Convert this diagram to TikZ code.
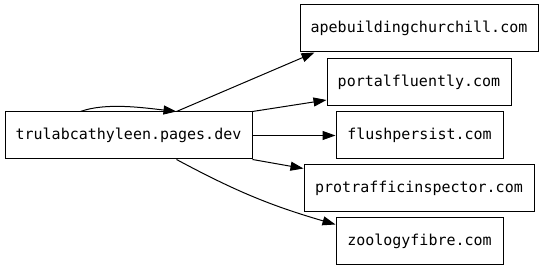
\documentclass[tikz,border=0pt]{standalone}
\usepackage{fontspec}
\setmonofont{DejaVu Sans Mono}
\usetikzlibrary{arrows.meta}

\begin{document}
\begin{tikzpicture}[x=1pt, y=1pt,
    site/.style={rectangle, draw, fill=white, line width=1pt, minimum height=47pt, inner sep=0pt,
        font=\ttfamily\fontsize{15}{18}\selectfont},
    link/.style={line width=1pt, -{Triangle[length=13pt, width=9pt]}}]
    \useasboundingbox (0,0) rectangle (544,272);

    % Draw nodes
    \node[site, minimum width=247pt] (src) at (128.5,136.5) {trulabcathyleen.pages.dev};
    \node[site, minimum width=238pt] (ape) at (419,243.5) {apebuildingchurchill.com};
    \node[site, minimum width=184pt] (portal) at (419,190) {portalfluently.com};
    \node[site, minimum width=167pt] (flush) at (419.5,136.5) {flushpersist.com};
    \node[site, minimum width=230pt] (proto) at (419,83.5) {protrafficinspector.com};
    \node[site, minimum width=167pt] (zoo) at (419.5,30.5) {zoologyfibre.com};

    % Draw connections
    \draw[link] ([xshift=-48pt]src.north) .. controls +(25,9) and +(-35,4) .. ([xshift=48pt]src.north);
    \draw[link] ([xshift=48pt]src.north) -- ([xshift=15pt]ape.south west);
    \draw[link] (src.north east) -- ([yshift=6pt]portal.south west);
    \draw[link] (src.east) -- (flush.west);
    \draw[link] (src.south east) -- ([yshift=-4pt]proto.north west);
    \draw[link] ([xshift=48pt]src.south) to[bend right=6] ([yshift=-7pt]zoo.north west);
\end{tikzpicture}
\end{document}
